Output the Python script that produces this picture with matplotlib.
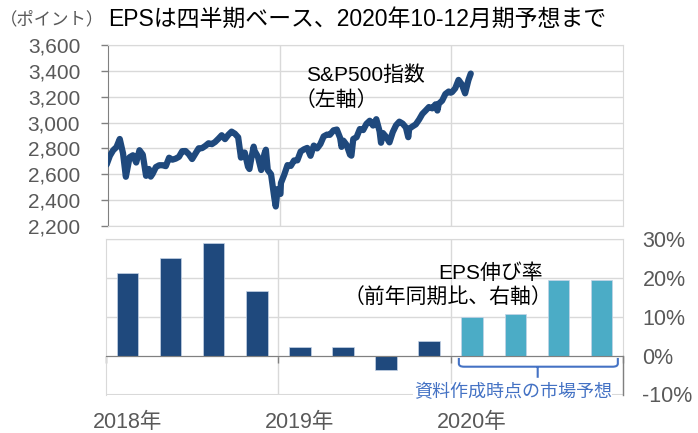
import matplotlib
matplotlib.use("Agg")
import matplotlib.pyplot as plt
import matplotlib.transforms as mtransforms
from matplotlib.path import Path
from matplotlib.patches import PathPatch
from matplotlib.ticker import FuncFormatter
import pandas as pd

plt.rcParams['font.family'] = ['Liberation Sans', 'Noto Sans CJK JP', 'DejaVu Sans']

# S&P500 (weekly closes + a few turning points)
spx_dates = [
    '2017-12-29', '2018-01-05', '2018-01-12', '2018-01-19', '2018-01-26', '2018-02-02', '2018-02-08',
    '2018-02-16', '2018-02-23', '2018-03-02', '2018-03-09', '2018-03-16', '2018-03-23', '2018-03-29',
    '2018-04-02', '2018-04-06', '2018-04-13', '2018-04-20', '2018-04-27', '2018-05-04', '2018-05-11',
    '2018-05-18', '2018-05-25', '2018-06-01', '2018-06-08', '2018-06-15', '2018-06-22', '2018-06-29',
    '2018-07-06', '2018-07-13', '2018-07-20', '2018-07-27', '2018-08-03', '2018-08-10', '2018-08-17',
    '2018-08-24', '2018-08-31', '2018-09-07', '2018-09-14', '2018-09-21', '2018-09-28', '2018-10-05',
    '2018-10-11', '2018-10-12', '2018-10-19', '2018-10-26', '2018-10-29', '2018-11-02', '2018-11-07',
    '2018-11-09', '2018-11-16', '2018-11-23', '2018-11-30', '2018-12-03', '2018-12-07', '2018-12-14',
    '2018-12-21', '2018-12-24', '2018-12-28',
    '2019-01-03', '2019-01-04', '2019-01-11', '2019-01-18', '2019-01-25', '2019-02-01', '2019-02-08',
    '2019-02-15', '2019-02-22', '2019-03-01', '2019-03-08', '2019-03-15', '2019-03-22', '2019-03-29',
    '2019-04-05', '2019-04-12', '2019-04-18', '2019-04-26', '2019-05-03', '2019-05-10', '2019-05-13',
    '2019-05-17', '2019-05-24', '2019-05-31', '2019-06-03', '2019-06-07', '2019-06-14', '2019-06-21',
    '2019-06-28', '2019-07-05', '2019-07-12', '2019-07-19', '2019-07-26', '2019-08-02', '2019-08-05',
    '2019-08-09', '2019-08-16', '2019-08-23', '2019-08-30', '2019-09-06', '2019-09-13', '2019-09-20',
    '2019-09-27', '2019-10-02', '2019-10-04', '2019-10-11', '2019-10-18', '2019-10-25', '2019-11-01',
    '2019-11-08', '2019-11-15', '2019-11-22', '2019-11-29', '2019-12-03', '2019-12-06', '2019-12-13',
    '2019-12-20', '2019-12-27', '2019-12-31',
    '2020-01-03', '2020-01-10', '2020-01-17', '2020-01-24', '2020-01-31', '2020-02-07', '2020-02-12',
]
spx_values = [
    2674, 2743, 2786, 2810, 2873, 2762, 2581,
    2732, 2747, 2691, 2786, 2752, 2588, 2641,
    2582, 2604, 2656, 2670, 2670, 2663, 2728,
    2713, 2721, 2735, 2779, 2780, 2755, 2718,
    2760, 2801, 2802, 2819, 2840, 2833, 2850,
    2875, 2902, 2872, 2905, 2930, 2914, 2886,
    2729, 2767, 2768, 2658, 2641, 2723, 2814,
    2781, 2736, 2633, 2760, 2790, 2633, 2600,
    2417, 2351, 2486,
    2448, 2532, 2596, 2671, 2665, 2707, 2708,
    2776, 2793, 2804, 2743, 2822, 2800, 2834,
    2893, 2907, 2905, 2940, 2946, 2881, 2812,
    2860, 2826, 2752, 2744, 2873, 2887, 2950,
    2942, 2990, 3014, 2977, 3026, 2932, 2844,
    2919, 2889, 2847, 2926, 2979, 3007, 2992,
    2962, 2887, 2952, 2970, 2986, 3023, 3067,
    3093, 3120, 3110, 3141, 3093, 3146, 3169,
    3221, 3240, 3231,
    3235, 3265, 3330, 3295, 3226, 3328, 3379,
]

# EPS growth, y/y %
quarters = ['2018Q1', '2018Q2', '2018Q3', '2018Q4', '2019Q1', '2019Q2', '2019Q3', '2019Q4',
            '2020Q1', '2020Q2', '2020Q3', '2020Q4']
eps_growth = [21.2, 25.1, 28.9, 16.5, 2.3, 2.1, -3.6, 3.7, 9.9, 10.6, 19.4, 19.4]
is_forecast = [False] * 8 + [True] * 4
year_labels = ['2018年', '2019年', '2020年']

NAVY = '#1f497d'
TEAL = '#4bacc6'
BLUE = '#4472c4'
GRID = '#d9d9d9'
GREY = '#595959'
AXIS = '#808080'

W, H = 698, 433
fig = plt.figure(figsize=(W / 100, H / 100), dpi=100)

# --- top panel: S&P500 ---
ax1 = fig.add_axes([108 / W, 1 - 226 / H, 515 / W, 181 / H])
dates = pd.to_datetime(spx_dates)
ax1.plot(dates, spx_values, color=NAVY, lw=4.5, solid_capstyle='round', solid_joinstyle='round', zorder=3)
ax1.set_xlim(pd.Timestamp('2018-01-01'), pd.Timestamp('2021-01-01'))
ax1.set_ylim(2200, 3600)
ax1.set_yticks(range(2200, 3601, 200))
ax1.yaxis.set_major_formatter(FuncFormatter(lambda v, p: f'{v:,.0f}'))
ax1.set_xticks([pd.Timestamp('2019-01-01'), pd.Timestamp('2020-01-01')])
ax1.tick_params(axis='x', length=0, labelbottom=False)
ax1.tick_params(axis='y', length=5, width=1, color=AXIS, labelsize=15, labelcolor=GREY, pad=15)
ax1.grid(True, color=GRID, lw=1)
for s in ['top', 'right', 'bottom']:
    ax1.spines[s].set_color(GRID)
ax1.spines['left'].set_color(AXIS)

fig.text(306 / W, 1 - 75 / H, 'S&P500指数', fontsize=15, va='center', ha='left')
fig.text(295 / W, 1 - 100 / H, '（左軸）', fontsize=15, va='center', ha='left')

# --- bottom panel: EPS growth ---
ax2 = fig.add_axes([106 / W, 1 - 394.5 / H, 517 / W, 155.5 / H])
xs = [i + 0.5 for i in range(len(quarters))]
colors = [TEAL if f else NAVY for f in is_forecast]
ax2.bar(xs, eps_growth, width=0.5, color=colors, edgecolor='#c5d3e6', linewidth=0.5, zorder=3)
ax2.set_xlim(0, 12)
ax2.set_ylim(-10, 30)
ax2.set_yticks([-10, 0, 10, 20, 30])
ax2.yaxis.set_major_formatter(FuncFormatter(lambda v, p: f'{v:.0f}%'))
ax2.yaxis.tick_right()
ax2.tick_params(axis='y', length=0, labelsize=15.5, labelcolor=GREY, pad=14)
ax2.yaxis.grid(True, color=GRID, lw=1)
for x in [4, 8]:
    ax2.axvline(x, color=GRID, lw=1, zorder=1)
ax2.spines['bottom'].set_position(('data', 0))
ax2.spines['bottom'].set_color(AXIS)
ax2.spines['bottom'].set_zorder(4)
ax2.set_xticks([0, 4, 8, 12])
ax2.tick_params(axis='x', length=5, width=1, color=AXIS, labelbottom=False)
for s in ['top', 'right', 'left']:
    ax2.spines[s].set_color(GRID)
ax2.axhline(-10, color=GRID, lw=1.5, zorder=1)
ax2.plot([12, 12], [-10, 0], color=AXIS, lw=1, clip_on=False, zorder=4)

fig.text(543 / W, 1 - 273 / H, 'EPS伸び率', fontsize=15, va='center', ha='right')
fig.text(552 / W, 1 - 298 / H, '（前年同期比、右軸）', fontsize=15, va='center', ha='right')

# bracket over forecast bars
x0, x1, xm = 8.19, 11.88, 10.02
yt, yh, yb = -0.6, -2.85, -5.7
r = 0.12
verts = [(x0, yt), (x0, yh + 0.8), (x0, yh), (x0 + r, yh), (x1 - r, yh), (x1, yh), (x1, yh + 0.8), (x1, yt),
         (xm, yh), (xm, yb)]
codes = [Path.MOVETO, Path.LINETO, Path.CURVE3, Path.CURVE3, Path.LINETO, Path.CURVE3, Path.CURVE3, Path.LINETO,
         Path.MOVETO, Path.LINETO]
ax2.add_patch(PathPatch(Path(verts, codes), fill=False, edgecolor=BLUE, lw=1.5, zorder=5, clip_on=False))
ax2.text(9.44, -9.6, '資料作成時点の市場予想', fontsize=13, color=BLUE, ha='center', va='center',
         bbox=dict(facecolor='white', edgecolor='none', pad=0.5), zorder=6, clip_on=False)

# year labels
trans = mtransforms.blended_transform_factory(ax2.transData, fig.transFigure)
for i, lab in enumerate(year_labels):
    fig.text(xs[i * 4], 1 - 422 / H, lab, transform=trans, fontsize=15.5, color=GREY, ha='center', va='center')

# heading
fig.text(0 / W, 1 - 19 / H, '（ポイント）', fontsize=12.5, color=GREY, va='center', ha='left')
fig.text(108 / W, 1 - 19 / H, 'EPSは四半期ベース、2020年10-12月期予想まで', fontsize=16.5, va='center', ha='left')

fig.savefig('out.png', dpi=100)
